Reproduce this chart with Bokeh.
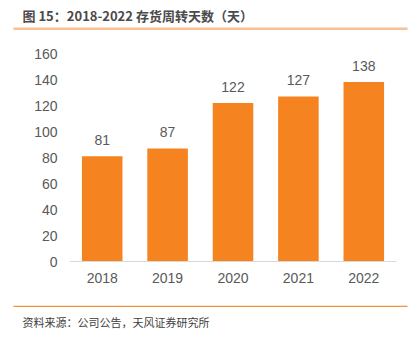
from bokeh.plotting import figure
from bokeh.models import ColumnDataSource, Range1d, FactorRange
from bokeh.core.properties import value
from bokeh.layouts import column
from bokeh.embed import file_html
from bokeh.resources import INLINE

years = ["2018", "2019", "2020", "2021", "2022"]
days = [81, 87, 122, 127, 138]
y_ticks = [0, 20, 40, 60, 80, 100, 120, 140, 160]
title_text = "图 15：2018-2022 存货周转天数（天）"
source_text = "资料来源：公司公告，天风证券研究所"

W = 419


def banner(height):
    f = figure(width=W, height=height, x_range=Range1d(0, W), y_range=Range1d(height, 0),
               output_backend="svg", toolbar_location=None,
               min_border=0, min_border_left=0, min_border_right=0, min_border_top=0, min_border_bottom=0)
    f.axis.visible = False
    f.grid.visible = False
    f.outline_line_color = None
    f.background_fill_color = "white"
    f.border_fill_color = "white"
    f.frame_align = False
    return f


# Title banner
top = banner(40)
top.text(x=[22], y=[15], text=[title_text], text_font_size="13px", text_font_style="bold",
         text_color="#4A4A4A", text_baseline="middle", text_font=value("Noto Sans CJK SC"))
top.segment(x0=[13], y0=[28.2], x1=[407], y1=[28.2], line_color="#F9C193", line_width=2.5)

# Main chart
src = ColumnDataSource(dict(x=years, y=days, lab=[str(v) for v in days]))
p = figure(width=W, height=265, x_range=FactorRange(*years), y_range=Range1d(0, 160),
           output_backend="svg", toolbar_location=None,
           min_border_left=69, min_border_right=23, min_border_top=13, min_border_bottom=44)
p.frame_align = False
p.outline_line_color = None
p.background_fill_color = "white"
p.border_fill_color = "white"
p.grid.grid_line_color = None
p.x_range.range_padding = 0

p.vbar(x="x", top="y", width=0.62, source=src, fill_color="#F5831F", line_color=None)
p.text(x="x", y="y", text="lab", source=src, text_align="center", text_baseline="bottom",
       y_offset=-11, text_font_size="14px", text_color="#595959")

p.yaxis.ticker = y_ticks
p.yaxis.axis_line_color = None
p.yaxis.major_tick_line_color = None
p.yaxis.minor_tick_line_color = None
p.yaxis.major_tick_out = 0
p.yaxis.major_label_standoff = 12
p.yaxis.major_label_text_font_size = "14px"
p.yaxis.major_label_text_color = "#595959"

p.xaxis.axis_line_color = "#D9D9D9"
p.xaxis.axis_line_width = 1
p.xaxis.major_tick_line_color = None
p.xaxis.minor_tick_line_color = None
p.xaxis.major_tick_out = 0
p.xaxis.major_label_standoff = 11
p.xaxis.major_label_text_font_size = "14px"
p.xaxis.major_label_text_color = "#595959"

# Source banner
bot = banner(34)
bot.segment(x0=[13], y0=[0.75], x1=[407], y1=[0.75], line_color="#E9943E", line_width=1.5)
bot.text(x=[22], y=[16], text=[source_text], text_font_size="11px", text_color="#404040",
         text_baseline="middle", text_font=value("Noto Sans CJK SC"))

layout = column(top, p, bot, spacing=0)
open("out.html", "w").write(file_html(layout, INLINE))
